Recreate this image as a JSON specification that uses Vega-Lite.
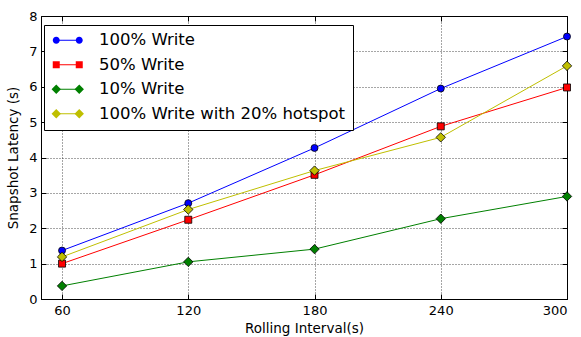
{
  "$schema": "https://vega.github.io/schema/vega-lite/v6.json",
  "width": 526,
  "height": 283,
  "autosize": {"type": "none"},
  "padding": {"left": 41, "top": 16, "right": 14, "bottom": 38},
  "background": "white",
  "config": {
    "font": "DejaVu Sans",
    "view": {"stroke": "black", "strokeWidth": 1},
    "axis": {
      "labelFont": "DejaVu Sans",
      "titleFont": "DejaVu Sans",
      "labelFontSize": 13,
      "titleFontSize": 13.5,
      "titleFontWeight": "normal",
      "labelColor": "black",
      "titleColor": "black",
      "domainColor": "black",
      "tickColor": "black",
      "tickSize": -5,
      "tickWidth": 1,
      "gridColor": "black",
      "gridDash": [1, 2],
      "gridWidth": 0.7,
      "gridOpacity": 1
    }
  },
  "data": {
    "values": [
      {"x": 60, "y": 1.37, "series": "100% Write"},
      {"x": 120, "y": 2.71, "series": "100% Write"},
      {"x": 180, "y": 4.27, "series": "100% Write"},
      {"x": 240, "y": 5.95, "series": "100% Write"},
      {"x": 300, "y": 7.42, "series": "100% Write"},
      {"x": 60, "y": 1.0, "series": "50% Write"},
      {"x": 120, "y": 2.24, "series": "50% Write"},
      {"x": 180, "y": 3.51, "series": "50% Write"},
      {"x": 240, "y": 4.88, "series": "50% Write"},
      {"x": 300, "y": 5.98, "series": "50% Write"},
      {"x": 60, "y": 0.37, "series": "10% Write"},
      {"x": 120, "y": 1.05, "series": "10% Write"},
      {"x": 180, "y": 1.41, "series": "10% Write"},
      {"x": 240, "y": 2.27, "series": "10% Write"},
      {"x": 300, "y": 2.9, "series": "10% Write"},
      {"x": 60, "y": 1.19, "series": "100% Write with 20% hotspot"},
      {"x": 120, "y": 2.53, "series": "100% Write with 20% hotspot"},
      {"x": 180, "y": 3.63, "series": "100% Write with 20% hotspot"},
      {"x": 240, "y": 4.57, "series": "100% Write with 20% hotspot"},
      {"x": 300, "y": 6.59, "series": "100% Write with 20% hotspot"}
    ]
  },
  "resolve": {"axis": {"x": "independent", "y": "independent"}},
  "layer": [
    {
      "mark": {"type": "line", "strokeWidth": 1},
      "encoding": {
        "x": {
          "field": "x", "type": "quantitative",
          "scale": {"domain": [50, 300], "nice": false, "zero": false},
          "axis": {"orient": "bottom", "values": [60, 120, 180, 240, 300], "title": "Rolling Interval(s)", "labelPadding": 10, "titlePadding": 4, "grid": true}
        },
        "y": {
          "field": "y", "type": "quantitative",
          "scale": {"domain": [0, 8], "nice": false},
          "axis": {"orient": "left", "values": [0, 1, 2, 3, 4, 5, 6, 7, 8], "title": "Snapshot Latency (s)", "labelPadding": 9, "titlePadding": 8, "grid": true}
        },
        "color": {
          "field": "series", "type": "nominal",
          "scale": {
            "domain": ["100% Write", "50% Write", "10% Write", "100% Write with 20% hotspot"],
            "range": ["#0000ff", "#ff0000", "#008000", "#bfbf00"]
          },
          "legend": {
            "orient": "none",
            "legendX": 3,
            "legendY": 9,
            "title": null,
            "zindex": 0,
            "fillColor": "white",
            "strokeColor": "black",
            "padding": 7,
            "rowPadding": 7.5,
            "symbolType": "M-3.286,0L3.286,0",
            "symbolSize": 49,
            "symbolStrokeWidth": 1,
            "symbolOffset": 8.5,
            "labelOffset": 23,
            "labelFont": "DejaVu Sans",
            "labelFontSize": 16.5,
            "labelColor": "black",
            "labelLimit": 400,
            "cornerRadius": 0
          }
        }
      }
    },
    {
      "transform": [{"filter": "datum.series === '100% Write'"}],
      "mark": {"type": "point", "shape": "circle", "filled": true, "fill": "#0000ff", "size": 49, "stroke": "black", "strokeWidth": 0.8, "opacity": 1},
      "encoding": {
        "x": {
          "field": "x", "type": "quantitative",
          "axis": {"orient": "top", "values": [60, 120, 180, 240, 300], "labels": false, "title": null, "grid": false, "domain": false}
        },
        "y": {
          "field": "y", "type": "quantitative",
          "axis": {"orient": "right", "values": [0, 1, 2, 3, 4, 5, 6, 7, 8], "labels": false, "title": null, "grid": false, "domain": false}
        }
      }
    },
    {
      "transform": [{"filter": "datum.series === '50% Write'"}],
      "mark": {"type": "point", "shape": "square", "filled": true, "fill": "#ff0000", "size": 49, "stroke": "black", "strokeWidth": 0.8, "opacity": 1},
      "encoding": {
        "x": {"field": "x", "type": "quantitative", "axis": null},
        "y": {"field": "y", "type": "quantitative", "axis": null}
      }
    },
    {
      "transform": [{"filter": "datum.series === '10% Write'"}],
      "mark": {"type": "point", "shape": "M-1.34,0L0,-1.34L1.34,0L0,1.34Z", "filled": true, "fill": "#008000", "size": 49, "stroke": "black", "strokeWidth": 0.8, "opacity": 1},
      "encoding": {
        "x": {"field": "x", "type": "quantitative", "axis": null},
        "y": {"field": "y", "type": "quantitative", "axis": null}
      }
    },
    {
      "transform": [{"filter": "datum.series === '100% Write with 20% hotspot'"}],
      "mark": {"type": "point", "shape": "M-1.34,0L0,-1.34L1.34,0L0,1.34Z", "filled": true, "fill": "#bfbf00", "size": 49, "stroke": "black", "strokeWidth": 0.8, "opacity": 1},
      "encoding": {
        "x": {"field": "x", "type": "quantitative", "axis": null},
        "y": {"field": "y", "type": "quantitative", "axis": null}
      }
    },
    {
      "mark": {"type": "point", "filled": true, "size": 49, "stroke": "black", "strokeWidth": 0.8, "opacity": 0},
      "encoding": {
        "x": {"field": "x", "type": "quantitative", "axis": null},
        "y": {"field": "y", "type": "quantitative", "axis": null},
        "fill": {
          "field": "series", "type": "nominal",
          "scale": {
            "domain": ["100% Write", "50% Write", "10% Write", "100% Write with 20% hotspot", "none"],
            "range": ["#0000ff", "#ff0000", "#008000", "#bfbf00", "#ffffff"]
          },
          "legend": {
            "orient": "none",
            "legendX": 3,
            "legendY": 9,
            "title": null,
            "zindex": 1,
            "values": ["100% Write", "50% Write", "10% Write", "100% Write with 20% hotspot"],
            "padding": 7,
            "rowPadding": 7.5,
            "symbolSize": 49,
            "symbolOpacity": 1,
            "symbolStrokeWidth": 0.8,
            "symbolStrokeColor": "black",
            "symbolOffset": 8.5,
            "labelOffset": 23,
            "labelFont": "DejaVu Sans",
            "labelFontSize": 16.5,
            "labelColor": "transparent",
            "labelLimit": 400
          }
        },
        "shape": {
          "field": "series", "type": "nominal",
          "scale": {
            "domain": ["100% Write", "50% Write", "10% Write", "100% Write with 20% hotspot", "none"],
            "range": [
              "M-4.286,0A1,1,0,1,1,-2.286,0A1,1,0,1,1,-4.286,0ZM2.286,0A1,1,0,1,1,4.286,0A1,1,0,1,1,2.286,0Z",
              "M-4.286,-1L-2.286,-1L-2.286,1L-4.286,1ZM2.286,-1L4.286,-1L4.286,1L2.286,1Z",
              "M-4.626,0L-3.286,-1.34L-1.946,0L-3.286,1.34ZM1.946,0L3.286,-1.34L4.626,0L3.286,1.34Z",
              "M-4.626,0L-3.286,-1.34L-1.946,0L-3.286,1.34ZM1.946,0L3.286,-1.34L4.626,0L3.286,1.34Z",
              "circle"
            ]
          },
          "legend": {
            "orient": "none",
            "legendX": 3,
            "legendY": 9,
            "title": null,
            "zindex": 1,
            "values": ["100% Write", "50% Write", "10% Write", "100% Write with 20% hotspot"],
            "padding": 7,
            "rowPadding": 7.5,
            "symbolSize": 49,
            "symbolOpacity": 1,
            "symbolStrokeWidth": 0.8,
            "symbolStrokeColor": "black",
            "symbolOffset": 8.5,
            "labelOffset": 23,
            "labelFont": "DejaVu Sans",
            "labelFontSize": 16.5,
            "labelColor": "transparent",
            "labelLimit": 400
          }
        }
      }
    }
  ]
}
